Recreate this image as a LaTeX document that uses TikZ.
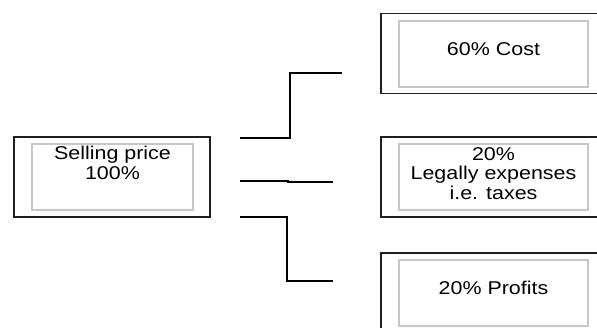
\documentclass[tikz,border=0pt]{standalone}
\usepackage{fontspec}
\setmainfont{Liberation Sans}[FakeStretch=1.16]
\usetikzlibrary{positioning}
\begin{document}
\begin{tikzpicture}[x=1pt,y=-1pt,
  outerbox/.style={draw=black!88, line width=1.6pt, minimum height=80pt, inner sep=0pt},
  innerbox/.style={draw=black!22, line width=1.4pt, minimum height=66pt, inner sep=0pt},
  boxtext/.style={font=\fontsize{18.5}{19.5}\selectfont, align=center, inner sep=0pt, anchor=north},
  link/.style={line width=1.3pt}]
\useasboundingbox (0,0) rectangle (597,327);
\clip (0,0) rectangle (597,327);
\node[outerbox, minimum width=196pt] (sellout) at (112,177) {};
\node[innerbox, minimum width=161pt] (sellin) at (112.5,177) {};
\node[boxtext] (sell) at ([yshift=-3pt]sellin.north) {Selling price\\100\%};
\node[outerbox, minimum width=224pt] (costout) at (493,53.5) {};
\node[innerbox, minimum width=189pt] (costin) at (493.5,54) {};
\node[boxtext] (cost) at ([yshift=-22pt]costin.north) {60\% Cost};
\node[outerbox, minimum width=224pt] (taxout) at (493,177) {};
\node[innerbox, minimum width=189pt] (taxin) at (493.5,177) {};
\node[boxtext] (tax) at ([yshift=-4pt]taxin.north) {20\%\\Legally expenses\\i.e. taxes};
\node[outerbox, minimum width=224pt] (profout) at (493,293) {};
\node[innerbox, minimum width=189pt] (profin) at (493.5,293) {};
\node[boxtext] (prof) at ([yshift=-22pt]profin.north) {20\% Profits};
\coordinate (topA) at (240,138);
\coordinate (topB) at (342,73);
\coordinate (midA) at (240,181);
\coordinate (midB) at (333,182);
\coordinate (lowA) at (240,217);
\coordinate (lowB) at (333,281);
\draw[link] (topA) -- ++(50,0) |- (topB);
\draw[link] (midA) -- ++(48,0) -- ++(0,1) -- (midB);
\draw[link] (lowA) -- ++(47,0) |- (lowB);
\end{tikzpicture}
\end{document}
